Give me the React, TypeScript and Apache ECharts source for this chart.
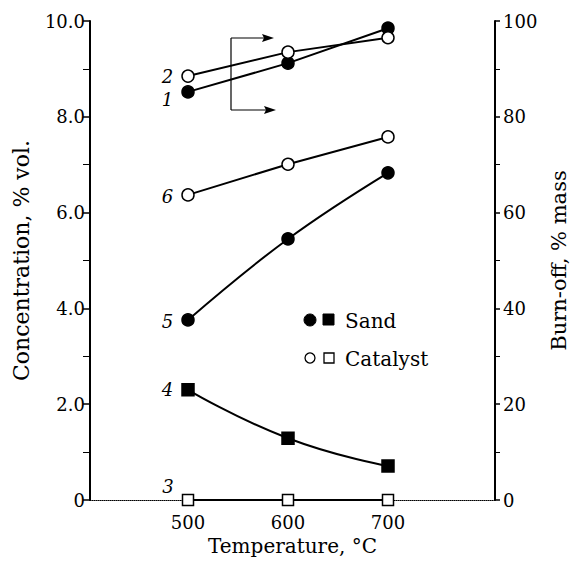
import React, { useEffect, useRef } from "react";
import * as echarts from "echarts";

const temperatures = [500, 600, 700];
const burnOffSand = [85.2, 91.2, 98.5]; // curve 1, right axis
const burnOffCatalyst = [88.5, 93.5, 96.5]; // curve 2, right axis
const conc3Catalyst = [0, 0, 0]; // curve 3
const conc4Sand = [2.3, 1.29, 0.71]; // curve 4
const conc5Sand = [3.76, 5.45, 6.83]; // curve 5
const conc6Catalyst = [6.37, 7.01, 7.58]; // curve 6
const xLabels = [500, 600, 700];

const FONT = "DejaVu Serif";

function pts(vals: number[], label: string, offset: number[]) {
  return vals.map((v, i) => {
    const d: any = { value: [temperatures[i], v] };
    if (i === 0) {
      d.label = {
        show: true,
        formatter: label,
        position: "left",
        distance: 8,
        offset,
        fontFamily: FONT,
        fontStyle: "italic",
        fontSize: 18,
        color: "#000",
      };
    }
    return d;
  });
}

export default function App() {
  const ref = useRef<HTMLDivElement>(null);
  useEffect(() => {
    const chart = echarts.init(ref.current!, null, { renderer: "svg" });
    const line = { color: "#000", width: 2 };
    const filled = { color: "#000", borderColor: "#000", borderWidth: 1.5 };
    const open = { color: "#fff", borderColor: "#000", borderWidth: 1.5 };
    chart.setOption({
      animation: false,
      backgroundColor: "#fff",
      grid: { left: 90, right: 75, top: 21, bottom: 64, outerBoundsMode: "none", containLabel: false },
      xAxis: {
        type: "value",
        min: 402,
        max: 807,
        name: "Temperature, °C",
        nameLocation: "middle",
        nameGap: 36,
        nameTextStyle: { fontFamily: FONT, fontSize: 20, color: "#000" },
        axisLine: { show: true, lineStyle: { color: "#000", width: 1, type: "dotted" } },
        axisTick: { show: false },
        splitLine: { show: false },
        axisLabel: {
          customValues: xLabels,
          fontFamily: FONT,
          fontSize: 18,
          color: "#000",
          margin: 13,
        },
      },
      yAxis: [
        {
          type: "value",
          min: 0,
          max: 10,
          interval: 2,
          name: "Concentration, % vol.",
          nameLocation: "middle",
          nameGap: 58,
          nameTextStyle: { fontFamily: FONT, fontSize: 22, color: "#000" },
          axisLine: { show: true, lineStyle: { color: "#000", width: 2 } },
          axisTick: { show: true, length: 7, lineStyle: { color: "#000", width: 1.5 } },
          minorTick: { show: true, splitNumber: 2, length: 7, lineStyle: { color: "#000", width: 1 } },
          splitLine: { show: false },
          axisLabel: {
            fontFamily: FONT,
            fontSize: 18,
            color: "#000",
            margin: 5,
            formatter: (v: number) => (v === 0 ? "0" : v.toFixed(1)),
          },
        },
        {
          type: "value",
          min: 0,
          max: 100,
          interval: 20,
          name: "Burn-off, % mass",
          nameLocation: "middle",
          nameGap: 46,
          nameTextStyle: { fontFamily: FONT, fontSize: 21, color: "#000" },
          axisLine: { show: true, lineStyle: { color: "#000", width: 2 } },
          axisTick: { show: true, length: 5, lineStyle: { color: "#000", width: 1.5 } },
          minorTick: { show: true, splitNumber: 2, length: 5, lineStyle: { color: "#000", width: 1 } },
          splitLine: { show: false },
          axisLabel: { fontFamily: FONT, fontSize: 18, color: "#000", margin: 8 },
        },
      ],
      series: [
        {
          type: "line",
          yAxisIndex: 1,
          data: pts(burnOffSand, "1", [0, 8]),
          symbol: "circle",
          symbolSize: 12,
          lineStyle: line,
          itemStyle: filled,
          z: 3,
        },
        {
          type: "line",
          yAxisIndex: 1,
          data: pts(burnOffCatalyst, "2", [0, 0]),
          symbol: "circle",
          symbolSize: 12,
          lineStyle: line,
          itemStyle: open,
          z: 4,
        },
        {
          type: "line",
          data: pts(conc6Catalyst, "6", [0, 2]),
          symbol: "circle",
          symbolSize: 12,
          lineStyle: line,
          itemStyle: open,
        },
        {
          type: "line",
          data: pts(conc5Sand, "5", [0, 2]),
          smooth: 0.4,
          symbol: "circle",
          symbolSize: 12,
          lineStyle: line,
          itemStyle: filled,
        },
        {
          type: "line",
          data: pts(conc4Sand, "4", [0, 0]),
          smooth: 0.5,
          symbol: "rect",
          symbolSize: 12,
          lineStyle: line,
          itemStyle: filled,
        },
        {
          type: "line",
          data: pts(conc3Catalyst, "3", [0, -14]),
          symbol: "rect",
          symbolSize: 11,
          lineStyle: line,
          itemStyle: open,
        },
      ],
      graphic: [
        { type: "line", shape: { x1: 231, y1: 38, x2: 231, y2: 110 }, style: { stroke: "#000", lineWidth: 1.2 } },
        { type: "line", shape: { x1: 231, y1: 38, x2: 266, y2: 38 }, style: { stroke: "#000", lineWidth: 1.2 } },
        { type: "polygon", shape: { points: [[274, 38], [262, 34], [264, 38], [262, 42]] }, style: { fill: "#000" } },
        { type: "line", shape: { x1: 231, y1: 110, x2: 268, y2: 110 }, style: { stroke: "#000", lineWidth: 1.2 } },
        { type: "polygon", shape: { points: [[276, 110], [264, 106], [266, 110], [264, 114]] }, style: { fill: "#000" } },
        { type: "circle", shape: { cx: 310, cy: 320, r: 6 }, style: { fill: "#000", stroke: "#000" } },
        { type: "rect", shape: { x: 323, y: 314, width: 11, height: 11 }, style: { fill: "#000", stroke: "#000" } },
        { type: "text", x: 345, y: 321, style: { text: "Sand", font: `20px '${FONT}'`, fill: "#000", verticalAlign: "middle" } },
        { type: "circle", shape: { cx: 310, cy: 358, r: 5 }, style: { fill: "#fff", stroke: "#000", lineWidth: 1.3 } },
        { type: "rect", shape: { x: 324, y: 353, width: 10, height: 10 }, style: { fill: "#fff", stroke: "#000", lineWidth: 1.3 } },
        { type: "text", x: 345, y: 359, style: { text: "Catalyst", font: `20px '${FONT}'`, fill: "#000", verticalAlign: "middle" } },
      ],
    });
    return () => chart.dispose();
  }, []);
  return <div ref={ref} style={{ width: 570, height: 564, position: "absolute", left: 0, top: 0 }} />;
}
